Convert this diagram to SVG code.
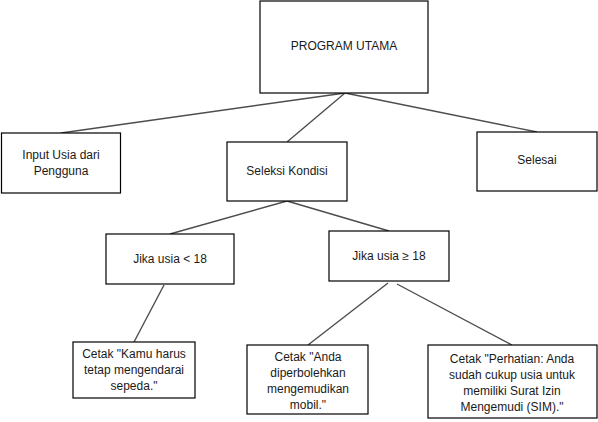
<svg xmlns="http://www.w3.org/2000/svg" width="598" height="422" viewBox="0 0 598 422">
<style>
.box{fill:#fff;stroke:#000;stroke-width:1.2}
.t{font-family:"Liberation Sans",Arial,sans-serif;font-size:12px;fill:#1a1a1a;text-anchor:middle}
.e{stroke:#4d4d4d;stroke-width:1.4;fill:none}
</style>
<rect width="598" height="422" fill="#fff"/>
<g id="connectors">
<line class="e" x1="345" y1="93" x2="61" y2="133"/>
<line class="e" x1="345" y1="93" x2="287" y2="142"/>
<line class="e" x1="345" y1="93" x2="537" y2="132"/>
<line class="e" x1="287" y1="201" x2="170" y2="234"/>
<line class="e" x1="287" y1="201" x2="389" y2="231"/>
<line class="e" x1="164" y1="285" x2="134" y2="342"/>
<line class="e" x1="388" y1="283" x2="308" y2="345"/>
<line class="e" x1="397" y1="284" x2="512" y2="345"/>
</g>
<g id="program-utama">
<rect class="box" x="260" y="1" width="168" height="92"/>
<text class="t" x="344" y="50">PROGRAM UTAMA</text>
</g>
<g id="input-usia">
<rect class="box" x="1.5" y="133" width="119" height="60"/>
<text class="t" x="61" y="159">Input Usia dari</text>
<text class="t" x="61" y="175">Pengguna</text>
</g>
<g id="seleksi-kondisi">
<rect class="box" x="227" y="142" width="120" height="59"/>
<text class="t" x="287" y="175">Seleksi Kondisi</text>
</g>
<g id="selesai">
<rect class="box" x="477" y="132" width="120" height="59"/>
<text class="t" x="537" y="164">Selesai</text>
</g>
<g id="jika-kurang">
<rect class="box" x="106" y="234" width="128" height="50"/>
<text class="t" x="170" y="263">Jika usia &lt; 18</text>
</g>
<g id="jika-lebih">
<rect class="box" x="329" y="231" width="120" height="50"/>
<text class="t" x="389" y="260">Jika usia ≥ 18</text>
</g>
<g id="cetak-kamu">
<rect class="box" x="73" y="342" width="122" height="56"/>
<text class="t" x="134" y="358">Cetak "Kamu harus</text>
<text class="t" x="134" y="374">tetap mengendarai</text>
<text class="t" x="134" y="390">sepeda."</text>
</g>
<g id="cetak-anda">
<rect class="box" x="247" y="345" width="121" height="69"/>
<text class="t" x="308" y="361">Cetak "Anda</text>
<text class="t" x="308" y="377">diperbolehkan</text>
<text class="t" x="308" y="393">mengemudikan</text>
<text class="t" x="308" y="409">mobil."</text>
</g>
<g id="cetak-perhatian">
<rect class="box" x="428" y="345" width="169" height="73"/>
<text class="t" x="512" y="363">Cetak "Perhatian: Anda</text>
<text class="t" x="512" y="379">sudah cukup usia untuk</text>
<text class="t" x="512" y="395">memiliki Surat Izin</text>
<text class="t" x="512" y="411">Mengemudi (SIM)."</text>
</g>
</svg>
